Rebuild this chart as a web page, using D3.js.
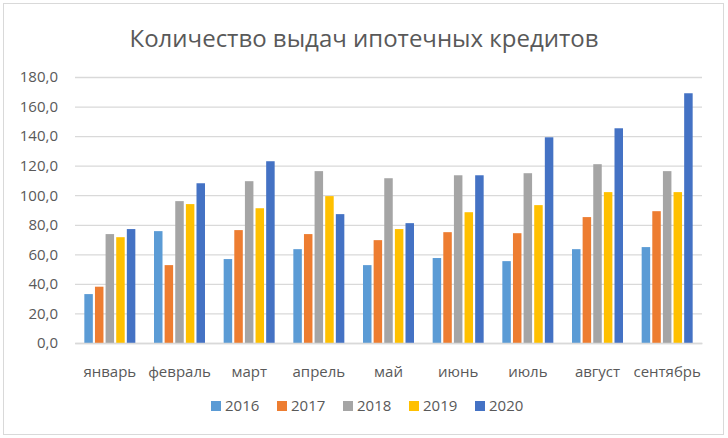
<!DOCTYPE html>
<html>
<head>
<meta charset="utf-8">
<script src="https://cdn.jsdelivr.net/npm/d3@7"></script>
<style>
  body { margin: 0; background: #fff; }
  svg text { font-family: "Open Sans", sans-serif; fill: #595959; }
</style>
</head>
<body>
<div id="chart"></div>
<script>
// Данные
const months = ['январь', 'февраль', 'март', 'апрель', 'май', 'июнь', 'июль', 'август', 'сентябрь'];
const years = ['2016', '2017', '2018', '2019', '2020'];
const v2016 = [33.1, 75.7, 56.8, 63.5, 52.7, 57.5, 55.4, 63.5, 64.9];
const v2017 = [38.1, 52.7, 76.4, 73.7, 69.6, 75.0, 74.3, 85.2, 89.2];
const v2018 = [73.7, 96.0, 109.5, 116.3, 111.5, 113.5, 114.9, 121.0, 116.3];
const v2019 = [71.6, 94.0, 91.2, 99.4, 77.1, 88.5, 93.3, 102.1, 102.1];
const v2020 = [77.1, 108.1, 123.0, 87.2, 81.1, 113.5, 139.2, 145.3, 169.0];
const yTicks = [0, 20, 40, 60, 80, 100, 120, 140, 160, 180];
const colors = ['#5B9BD5', '#ED7D31', '#A5A5A5', '#FFC000', '#4472C4'];

const series = [v2016, v2017, v2018, v2019, v2020];
const width = 728, height = 438;
const margin = { top: 77, right: 26, bottom: 95, left: 75 };

const svg = d3.select('#chart').append('svg')
    .attr('width', width)
    .attr('height', height);

// рамка
svg.append('rect')
    .attr('x', 3.5).attr('y', 3.5)
    .attr('width', 720).attr('height', 431)
    .attr('fill', '#fff')
    .attr('stroke', '#d9d9d9');

const x0 = d3.scaleBand()
    .domain(months)
    .range([margin.left, width - margin.right])
    .paddingInner(0.268)
    .paddingOuter(0.134);

const x1 = d3.scaleBand()
    .domain(years)
    .range([0, x0.bandwidth()])
    .paddingInner(0.2);

const y = d3.scaleLinear()
    .domain([0, 180])
    .range([height - margin.bottom, margin.top]);

// Сетка
const yAxis = d3.axisLeft(y)
    .tickValues(yTicks)
    .tickSize(-(width - margin.left - margin.right))
    .tickPadding(17)
    .tickFormat(d => d3.format('.1f')(d).replace('.', ','));

const gy = svg.append('g')
    .attr('transform', `translate(${margin.left},0)`)
    .call(yAxis);
gy.select('.domain').remove();
gy.selectAll('line').attr('stroke', '#d9d9d9').attr('stroke-width', 1.3);
gy.selectAll('text').style('font-size', '15px').attr('fill', '#595959');

// Столбцы
const rows = months.map((m, i) => ({ month: m, values: years.map((yr, j) => ({ year: yr, value: series[j][i], color: colors[j] })) }));

svg.append('g')
    .selectAll('g')
    .data(rows)
    .join('g')
    .attr('transform', d => `translate(${x0(d.month)},0)`)
    .selectAll('rect')
    .data(d => d.values)
    .join('rect')
    .attr('x', d => x1(d.year))
    .attr('y', d => y(d.value))
    .attr('width', x1.bandwidth())
    .attr('height', d => y(0) - y(d.value))
    .attr('fill', d => d.color);

// Ось X
const xAxis = d3.axisBottom(x0).tickSize(0).tickPadding(23);
const gx = svg.append('g')
    .attr('transform', `translate(0,${y(0)})`)
    .call(xAxis);
gx.select('.domain').attr('stroke', '#d9d9d9').attr('stroke-width', 1.3);
gx.selectAll('text').style('font-size', '15px').attr('fill', '#595959');

// Заголовок
svg.append('text')
    .attr('x', 364)
    .attr('y', 47)
    .attr('text-anchor', 'middle')
    .style('font-size', '24px')
    .text('Количество выдач ипотечных кредитов');

// Легенда
const legend = svg.append('g')
    .selectAll('g')
    .data(years)
    .join('g')
    .attr('transform', (d, i) => `translate(${211 + i * 66},401)`);

legend.append('rect')
    .attr('width', 10)
    .attr('height', 10)
    .attr('fill', (d, i) => colors[i]);

legend.append('text')
    .attr('x', 14)
    .attr('y', 10)
    .style('font-size', '15px')
    .text(d => d);
</script>
</body>
</html>
